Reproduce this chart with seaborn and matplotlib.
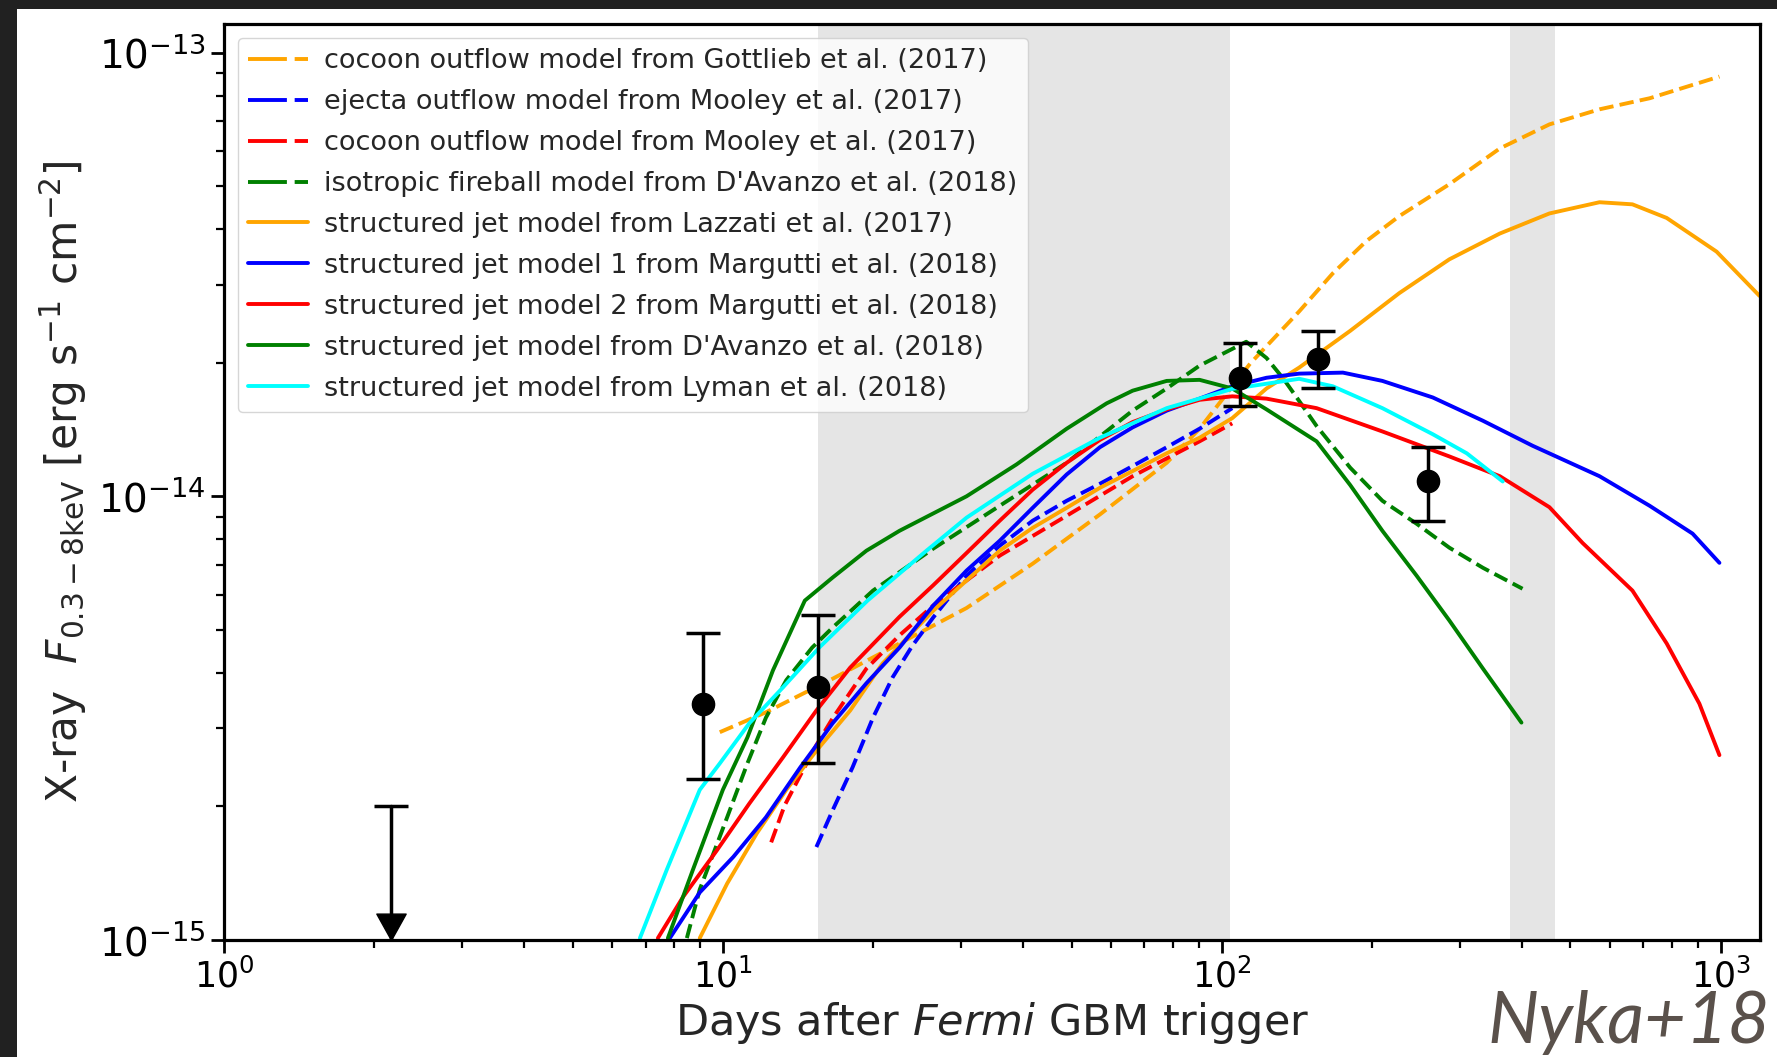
import numpy as np
import pandas as pd
import matplotlib
matplotlib.use("Agg")
import matplotlib.pyplot as plt
import seaborn as sns
from matplotlib.path import Path
from matplotlib.patches import Rectangle

# ---------------- data (days after trigger, flux erg s^-1 cm^-2) ----------------
gottlieb_cocoon_t = [9.86, 12.2, 16.6, 22.6, 30.8, 41.8, 57.0, 77.6, 90.3, 114, 143, 167, 195, 227,
                     286, 361, 454, 572, 721, 995]
gottlieb_cocoon_f = [2.94e-15, 3.26e-15, 3.88e-15, 4.66e-15, 5.60e-15, 7.05e-15, 9.10e-15, 1.19e-14,
                     1.42e-14, 1.99e-14, 2.61e-14, 3.18e-14, 3.76e-14, 4.28e-14, 5.05e-14, 6.08e-14,
                     6.89e-14, 7.45e-14, 7.89e-14, 8.83e-14]

mooley_ejecta_t = [15.4, 16.6, 18.2, 20.0, 21.9, 24.0, 26.4, 30.8, 35.9, 41.8, 48.9, 57.0, 66.3, 77.6, 90.3, 105]
mooley_ejecta_f = [1.62e-15, 1.96e-15, 2.45e-15, 3.17e-15, 3.91e-15, 4.61e-15, 5.33e-15, 6.62e-15,
                   7.74e-15, 8.81e-15, 9.77e-15, 1.067e-14, 1.17e-14, 1.29e-14, 1.42e-14, 1.58e-14]

mooley_cocoon_t = [12.5, 13.3, 14.3, 15.4, 16.6, 19.4, 22.6, 26.4, 30.8, 35.9, 48.9, 66.3, 90.3, 105]
mooley_cocoon_f = [1.66e-15, 2.01e-15, 2.35e-15, 2.75e-15, 3.16e-15, 4.09e-15, 4.86e-15, 5.67e-15,
                   6.46e-15, 7.35e-15, 9.04e-15, 1.11e-14, 1.33e-14, 1.46e-14]

davanzo_iso_t = [8.47, 8.99, 10.2, 11.2, 12.2, 13.4, 15.1, 16.6, 20.0, 26.4, 35.9, 48.9, 66.3, 77.6,
                 90.3, 112, 123, 133, 143, 155, 181, 210, 246, 286, 334, 401]
davanzo_iso_f = [1.01e-15, 1.30e-15, 1.89e-15, 2.50e-15, 3.17e-15, 3.85e-15, 4.56e-15, 5.06e-15,
                 6.13e-15, 7.62e-15, 9.52e-15, 1.19e-14, 1.56e-14, 1.75e-14, 1.97e-14, 2.23e-14,
                 2.05e-14, 1.84e-14, 1.64e-14, 1.44e-14, 1.16e-14, 9.77e-15, 8.67e-15, 7.66e-15,
                 6.90e-15, 6.19e-15]

lazzati_t = [8.99, 10.2, 11.7, 13.4, 15.4, 18.0, 20.9, 26.4, 30.8, 35.9, 41.8, 48.9, 57.0, 66.3, 77.6,
             90.3, 105, 123, 143, 181, 227, 286, 361, 454, 572, 666, 780, 982, 1197]
lazzati_f = [1.01e-15, 1.34e-15, 1.74e-15, 2.18e-15, 2.67e-15, 3.29e-15, 4.20e-15, 5.52e-15, 6.46e-15,
             7.54e-15, 8.49e-15, 9.42e-15, 1.045e-14, 1.14e-14, 1.25e-14, 1.355e-14, 1.50e-14,
             1.75e-14, 1.95e-14, 2.36e-14, 2.87e-14, 3.42e-14, 3.91e-14, 4.34e-14, 4.60e-14,
             4.55e-14, 4.24e-14, 3.56e-14, 2.83e-14]

margutti1_t = [7.83, 8.99, 10.5, 12.2, 14.3, 16.6, 19.4, 22.6, 26.4, 30.8, 35.9, 41.8, 48.9, 57.0, 66.3,
               77.6, 90.3, 105, 123, 143, 175, 210, 265, 334, 420, 572, 721, 879, 995]
margutti1_f = [1.01e-15, 1.28e-15, 1.54e-15, 1.89e-15, 2.45e-15, 3.08e-15, 3.79e-15, 4.56e-15,
               5.67e-15, 6.80e-15, 7.94e-15, 9.42e-15, 1.12e-14, 1.29e-14, 1.43e-14, 1.56e-14,
               1.66e-14, 1.77e-14, 1.85e-14, 1.89e-14, 1.90e-14, 1.82e-14, 1.67e-14, 1.48e-14,
               1.30e-14, 1.11e-14, 9.52e-15, 8.24e-15, 7.08e-15]

margutti2_t = [7.41, 8.32, 9.72, 11.3, 13.2, 15.4, 18.0, 22.6, 26.4, 30.8, 35.9, 41.8, 48.9, 57.0, 66.3,
               77.6, 90.3, 105, 123, 155, 210, 286, 361, 454, 529, 666, 780, 907, 995]
margutti2_f = [1.01e-15, 1.25e-15, 1.59e-15, 2.03e-15, 2.58e-15, 3.29e-15, 4.11e-15, 5.35e-15,
               6.30e-15, 7.45e-15, 8.81e-15, 1.035e-14, 1.19e-14, 1.34e-14, 1.47e-14, 1.57e-14,
               1.65e-14, 1.68e-14, 1.66e-14, 1.58e-14, 1.40e-14, 1.23e-14, 1.11e-14, 9.45e-15,
               7.85e-15, 6.13e-15, 4.66e-15, 3.41e-15, 2.61e-15]

davanzo_jet_t = [7.76, 8.71, 10.0, 11.2, 12.6, 14.6, 16.6, 19.4, 22.6, 30.8, 38.8, 48.9, 58.8, 66.3,
                 77.6, 90.3, 105, 123, 155, 181, 210, 246, 286, 334, 399]
davanzo_jet_f = [1.01e-15, 1.44e-15, 2.18e-15, 2.86e-15, 4.05e-15, 5.82e-15, 6.56e-15, 7.54e-15,
                 8.36e-15, 1.0e-14, 1.18e-14, 1.42e-14, 1.62e-14, 1.73e-14, 1.82e-14, 1.83e-14,
                 1.75e-14, 1.57e-14, 1.33e-14, 1.06e-14, 8.36e-15, 6.62e-15, 5.25e-15, 4.09e-15,
                 3.09e-15]

lyman_t = [6.82, 7.72, 8.99, 9.86, 11.3, 13.2, 15.6, 19.5, 25.6, 30.8, 41.8, 57.0, 77.6, 105, 143,
           167, 210, 265, 310, 366]
lyman_f = [1.01e-15, 1.44e-15, 2.18e-15, 2.50e-15, 3.08e-15, 3.71e-15, 4.56e-15, 5.82e-15, 7.54e-15,
           8.95e-15, 1.124e-14, 1.355e-14, 1.58e-14, 1.746e-14, 1.84e-14, 1.77e-14, 1.58e-14,
           1.38e-14, 1.25e-14, 1.08e-14]

# observations
obs_t = [9.12, 15.5, 108.7, 156, 259]
obs_f = [3.41e-15, 3.71e-15, 1.85e-14, 2.04e-14, 1.08e-14]
obs_hi = [4.91e-15, 5.41e-15, 2.21e-14, 2.36e-14, 1.29e-14]
obs_lo = [2.31e-15, 2.51e-15, 1.60e-14, 1.75e-14, 8.81e-15]

# upper limit
ul_t = [2.16]
ul_top = [2.0e-15]
ul_floor = [1.0e-15]

# shaded observing gaps (days)
band_starts = [15.5, 379]
band_ends = [104, 466]

x_limits = [1, 1200]
y_limits = [1e-15, 1.16e-13]

models = [
    ("cocoon outflow model from Gottlieb et al. (2017)", gottlieb_cocoon_t, gottlieb_cocoon_f, "orange", "--"),
    ("ejecta outflow model from Mooley et al. (2017)", mooley_ejecta_t, mooley_ejecta_f, "blue", "--"),
    ("cocoon outflow model from Mooley et al. (2017)", mooley_cocoon_t, mooley_cocoon_f, "red", "--"),
    ("isotropic fireball model from D'Avanzo et al. (2018)", davanzo_iso_t, davanzo_iso_f, "green", "--"),
    ("structured jet model from Lazzati et al. (2017)", lazzati_t, lazzati_f, "orange", "-"),
    ("structured jet model 1 from Margutti et al. (2018)", margutti1_t, margutti1_f, "blue", "-"),
    ("structured jet model 2 from Margutti et al. (2018)", margutti2_t, margutti2_f, "red", "-"),
    ("structured jet model from D'Avanzo et al. (2018)", davanzo_jet_t, davanzo_jet_f, "green", "-"),
    ("structured jet model from Lyman et al. (2018)", lyman_t, lyman_f, "cyan", "-"),
]

# ---------------- styling ----------------
sns.set_style("ticks")
plt.rcParams["font.family"] = ["DejaVu Sans"]
plt.rcParams["mathtext.fontset"] = "dejavusans"
plt.rcParams["axes.edgecolor"] = "black"
plt.rcParams["xtick.color"] = "black"
plt.rcParams["ytick.color"] = "black"

W, H = 1777, 1057
fig = plt.figure(figsize=(W / 100, H / 100), dpi=100)
fig.patch.set_facecolor("#212121")
fig.add_artist(Rectangle((17 / W, 0), 1 - 17 / W, 1 - 9 / H, transform=fig.transFigure,
                         facecolor="white", edgecolor="none", zorder=-10))

ax = fig.add_axes([224 / W, 1 - 940 / H, (1760 - 224) / W, (940 - 24) / H])
ax.set_facecolor("white")
ax.set_xscale("log")
ax.set_yscale("log")

for s, e in zip(band_starts, band_ends):
    ax.axvspan(s, e, color="gray", alpha=0.2, lw=0, zorder=0)

for label, t, f, c, ls in models:
    df = pd.DataFrame({"t": t, "f": f})
    sns.lineplot(data=df, x="t", y="f", ax=ax, color=c, linestyle=ls, lw=2.8,
                 label=label, sort=False, estimator=None, zorder=2)

# observations with error bars
obs_t_a = np.array(obs_t)
obs_f_a = np.array(obs_f)
yerr = [obs_f_a - np.array(obs_lo), np.array(obs_hi) - obs_f_a]
ax.errorbar(obs_t_a, obs_f_a, yerr=yerr, fmt="o", color="black", ms=16, elinewidth=2.5,
            capsize=12, capthick=2.5, zorder=5)

# upper limit arrow
ax.plot([ul_t[0], ul_t[0]], [ul_floor[0], ul_top[0]], color="black", lw=2.5, zorder=5)
ax.plot(ul_t, ul_top, marker="_", color="black", ms=24, mew=2.5, ls="none", zorder=5)
tri = Path([(0, 0), (-1.0, 1.8), (1.0, 1.8), (0, 0)],
           [Path.MOVETO, Path.LINETO, Path.LINETO, Path.CLOSEPOLY])
ax.plot(ul_t, ul_floor, marker=tri, color="black", ms=38, ls="none", zorder=5, clip_on=False)

ax.set_xlim(*x_limits)
ax.set_ylim(*y_limits)

ax.set_xlabel("Days after $\\mathit{Fermi}$ GBM trigger", fontsize=31, labelpad=4)
ax.set_ylabel("X-ray  $F_{0.3-8\\mathrm{keV}}$ [erg s$^{-1}$ cm$^{-2}$]", fontsize=30.5, labelpad=7)

ax.tick_params(which="major", length=9.5, width=2, direction="out")
ax.tick_params(axis="x", which="major", labelsize=25)
ax.tick_params(axis="y", which="major", labelsize=28)
ax.tick_params(which="minor", length=5.5, width=1.6, direction="out")
for sp in ax.spines.values():
    sp.set_linewidth(2.3)
    sp.set_color("black")
    sp.set_visible(True)

leg = ax.legend(loc="upper left", fontsize=19.5, handlelength=2.2, handletextpad=0.6,
                labelspacing=0.55, frameon=True, framealpha=0.8, borderaxespad=0.5)
for line in leg.get_lines():
    line.set_linewidth(2.8)
    if line.get_linestyle() == "--":
        line.set_dashes((10, 2))

fig.text(1770 / W, 14 / H, "Nyka+18", ha="right", va="baseline", fontsize=52,
         family=["Lato", "DejaVu Sans"], style="italic", color="#5a514b")

fig.savefig("out.png", dpi=100, facecolor=fig.get_facecolor())
